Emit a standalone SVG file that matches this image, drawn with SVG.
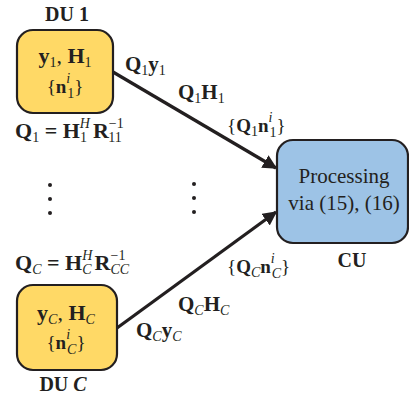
<svg xmlns="http://www.w3.org/2000/svg" width="409" height="400" viewBox="0 0 409 400">
  <defs>
    <style>
      .t { font-family: "Liberation Serif", "Times New Roman", serif; fill: #231F20; }
      .b { font-weight: bold; }
      .sub { font-weight: normal; font-size: 14px; }
      .it { font-style: italic; }
      .du { fill: #FFD966; stroke: #231F20; stroke-width: 2.2; }
      .cu { fill: #9DC3E6; stroke: #231F20; stroke-width: 2.2; }
      .edge { stroke: #231F20; stroke-width: 3.2; fill: none; }
      .dot { fill: #231F20; }
    </style>
    <marker id="arrow" viewBox="0 0 10 10" refX="9" refY="5" markerWidth="4.5" markerHeight="4.5" orient="auto" markerUnits="strokeWidth">
      <path d="M0,0 L10,5 L0,10 z" fill="#231F20"/>
    </marker>
  </defs>

  <!-- connectors from the distributed units to the central unit -->
  <g id="connectors">
    <line class="edge" x1="113" y1="72" x2="276" y2="168" marker-end="url(#arrow)"/>
    <line class="edge" x1="117" y1="328" x2="276" y2="212" marker-end="url(#arrow)"/>
    <!-- labels on the upper link -->
    <text class="t b" x="125" y="71" font-size="21">Q<tspan class="sub" dy="4">1</tspan><tspan dy="-4">y</tspan><tspan class="sub" dy="4">1</tspan></text>
    <text class="t b" x="178" y="99" font-size="21">Q<tspan class="sub" dy="4">1</tspan><tspan dy="-4">H</tspan><tspan class="sub" dy="4">1</tspan></text>
    <text class="t b" x="227" y="132" font-size="19"><tspan font-weight="normal">{</tspan>Q<tspan class="sub" dy="4">1</tspan><tspan dy="-4">n</tspan><tspan class="sub it" dy="-10" font-size="13">i</tspan><tspan class="sub" dx="-3" dy="15" font-size="13">1</tspan><tspan font-weight="normal" dy="-5">}</tspan></text>
    <!-- labels on the lower link -->
    <text class="t b" x="227" y="273" font-size="19"><tspan font-weight="normal">{</tspan>Q<tspan class="sub it" dy="4">C</tspan><tspan dy="-4">n</tspan><tspan class="sub it" dy="-10" font-size="13">i</tspan><tspan class="sub it" dx="-3" dy="15" font-size="13">C</tspan><tspan font-weight="normal" dy="-5">}</tspan></text>
    <text class="t b" x="178" y="311" font-size="21">Q<tspan class="sub it" dy="4">C</tspan><tspan dy="-4">H</tspan><tspan class="sub it" dy="4">C</tspan></text>
    <text class="t b" x="136" y="337" font-size="21">Q<tspan class="sub it" dy="4">C</tspan><tspan dy="-4">y</tspan><tspan class="sub it" dy="4">C</tspan></text>
  </g>

  <!-- distributed unit 1 -->
  <g id="du1">
    <text class="t b" x="67" y="21" font-size="20" text-anchor="middle">DU 1</text>
    <rect class="du" x="17" y="30" width="96" height="83" rx="16"/>
    <text class="t b" x="65" y="63" font-size="22" text-anchor="middle">y<tspan class="sub" dy="4">1</tspan><tspan font-weight="normal" dy="-4">, </tspan>H<tspan class="sub" dy="4">1</tspan></text>
    <text class="t b" x="65" y="93" font-size="19" text-anchor="middle"><tspan font-weight="normal">{</tspan>n<tspan class="sub it" dy="-10" font-size="13">i</tspan><tspan class="sub" dx="-3" dy="15" font-size="13">1</tspan><tspan font-weight="normal" dy="-5">}</tspan></text>
    <text class="t b" x="15" y="138" font-size="22">Q<tspan class="sub" dy="4">1</tspan><tspan dy="-4"> = H</tspan><tspan class="sub it" dy="-10">H</tspan><tspan class="sub" dx="-10" dy="14">1</tspan><tspan dx="6" dy="-4">R</tspan><tspan class="sub" dy="-10">−1</tspan><tspan class="sub" dx="-15" dy="14">11</tspan></text>
  </g>

  <!-- ellipsis between the units -->
  <g id="ellipsis">
    <circle class="dot" cx="50" cy="185" r="2"/>
    <circle class="dot" cx="50" cy="199" r="2"/>
    <circle class="dot" cx="50" cy="213" r="2"/>
    <circle class="dot" cx="194" cy="184" r="2"/>
    <circle class="dot" cx="194" cy="198" r="2"/>
    <circle class="dot" cx="194" cy="212" r="2"/>
  </g>

  <!-- distributed unit C -->
  <g id="duC">
    <text class="t b" x="15" y="270" font-size="22">Q<tspan class="sub it" dy="4">C</tspan><tspan dy="-4"> = H</tspan><tspan class="sub it" dy="-10">H</tspan><tspan class="sub it" dx="-10" dy="14">C</tspan><tspan dx="3" dy="-4">R</tspan><tspan class="sub" dy="-10">−1</tspan><tspan class="sub it" dx="-15" dy="14">CC</tspan></text>
    <rect class="du" x="17" y="285" width="100" height="85" rx="16"/>
    <text class="t b" x="66" y="320" font-size="22" text-anchor="middle">y<tspan class="sub it" dy="4">C</tspan><tspan font-weight="normal" dy="-4">, </tspan>H<tspan class="sub it" dy="4">C</tspan></text>
    <text class="t b" x="66" y="349" font-size="19" text-anchor="middle"><tspan font-weight="normal">{</tspan>n<tspan class="sub it" dy="-10" font-size="13">i</tspan><tspan class="sub it" dx="-3" dy="15" font-size="13">C</tspan><tspan font-weight="normal" dy="-5">}</tspan></text>
    <text class="t b" x="63" y="391" font-size="20" text-anchor="middle">DU <tspan class="it">C</tspan></text>
  </g>

  <!-- central unit -->
  <g id="cu">
    <rect class="cu" x="277" y="140" width="131" height="103" rx="16"/>
    <text class="t" x="344" y="183" font-size="21" text-anchor="middle">Processing</text>
    <text class="t" x="344" y="210" font-size="21" text-anchor="middle">via (15), (16)</text>
    <text class="t b" x="352" y="267" font-size="20" text-anchor="middle">CU</text>
  </g>
</svg>
